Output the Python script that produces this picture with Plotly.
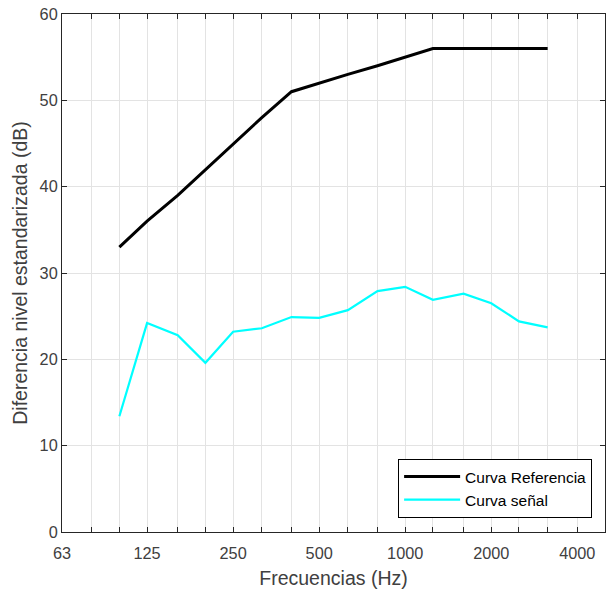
import plotly.graph_objects as go

freqs = [100, 125, 160, 200, 250, 315, 400, 500, 630, 800, 1000, 1250, 1600, 2000, 2500, 3150]
ref_curve = [33, 36, 39, 42, 45, 48, 51, 52, 53, 54, 55, 56, 56, 56, 56, 56]
signal_curve = [13.4, 24.2, 22.8, 19.6, 23.2, 23.6, 24.9, 24.8, 25.7, 27.9, 28.4, 26.9, 27.6, 26.5, 24.4, 23.7]

grid_freqs = [63, 80, 100, 125, 160, 200, 250, 315, 400, 500, 630, 800, 1000,
              1250, 1600, 2000, 2500, 3150, 4000, 5000]
labeled = ["63", "125", "250", "500", "1000", "2000", "4000"]
tick_text = [str(f) if str(f) in labeled else "" for f in grid_freqs]

axis_col = "#262626"
text_col = "#404040"
grid_col = "#e3e3e3"
font_fam = "Liberation Sans, Arial, Helvetica, sans-serif"

fig = go.Figure()
fig.add_trace(go.Scatter(x=freqs, y=ref_curve, mode="lines", name="Curva Referencia",
                         line=dict(color="black", width=3)))
fig.add_trace(go.Scatter(x=freqs, y=signal_curve, mode="lines", name="Curva señal",
                         line=dict(color="#00ffff", width=2.2)))

fig.update_layout(
    width=606, height=599,
    margin=dict(l=62, r=1, t=14, b=67),
    paper_bgcolor="white", plot_bgcolor="white",
    font=dict(family=font_fam, color=text_col, size=16),
    showlegend=True,
    legend=dict(x=0.619, y=0.141, xanchor="left", yanchor="top",
                bgcolor="white", bordercolor="black", borderwidth=1,
                font=dict(size=15.5, color="black"), itemwidth=56,
                tracegroupgap=0),
    xaxis=dict(type="log", range=[1.7993, 3.699],
               tickvals=grid_freqs, ticktext=tick_text,
               ticks="inside", ticklen=5, tickcolor=axis_col,
               showgrid=True, gridcolor=grid_col, gridwidth=1,
               showline=True, linecolor=axis_col, linewidth=1, mirror="ticks",
               zeroline=False, ticklabelstandoff=6,
               tickfont=dict(size=16.3, color=text_col),
               title=dict(text="Frecuencias (Hz)", font=dict(size=19.5, color=text_col), standoff=10)),
    yaxis=dict(range=[0, 60], tickvals=[0, 10, 20, 30, 40, 50, 60],
               ticks="inside", ticklen=5, tickcolor=axis_col,
               showgrid=True, gridcolor=grid_col, gridwidth=1,
               showline=True, linecolor=axis_col, linewidth=1, mirror="ticks",
               zeroline=False,
               tickfont=dict(size=16.3, color=text_col),
               title=dict(text="Diferencia nivel estandarizada (dB)", font=dict(size=19.5, color=text_col), standoff=6)),
)

fig.write_html("out.html")
